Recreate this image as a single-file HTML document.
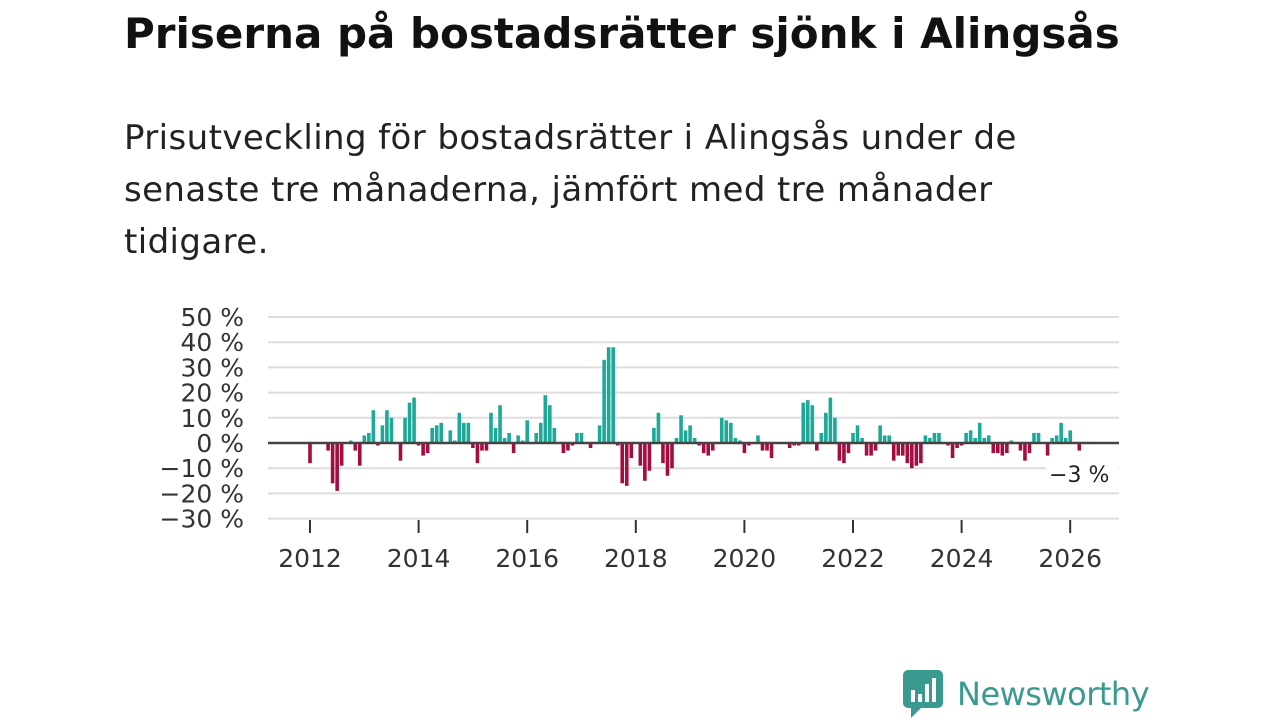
<!DOCTYPE html>
<html><head><meta charset="utf-8"><style>
body{margin:0;width:1280px;height:720px;background:#fff;font-family:"Liberation Sans","DejaVu Sans",sans-serif;overflow:hidden;position:relative}
h1{position:absolute;left:124px;top:9px;margin:0;font-size:42px;font-weight:bold;color:#111;font-family:"DejaVu Sans","Liberation Sans",sans-serif;letter-spacing:0}
p{position:absolute;left:124px;top:112px;margin:0;font-size:34px;line-height:52px;color:#222;width:1100px;font-family:"DejaVu Sans","Liberation Sans",sans-serif;font-weight:normal;letter-spacing:0.4px}
</style></head><body>
<h1>Priserna på bostadsrätter sjönk i Alingsås</h1>
<p>Prisutveckling för bostadsrätter i Alingsås under de<br>senaste tre månaderna, jämfört med tre månader<br>tidigare.</p>
<svg id="chart" width="1280" height="720" style="position:absolute;left:0;top:0"></svg>
<div style="position:absolute;left:903px;top:670px;display:flex;align-items:center">
<svg width="40" height="48" viewBox="0 0 40 48"><rect x="0" y="0" width="40" height="38" rx="5" fill="#3a9a8f"/><path d="M8 38 L8 48 L18 38Z" fill="#3a9a8f"/><rect x="8" y="20" width="4" height="12" fill="#fff"/><rect x="15" y="24" width="4" height="8" fill="#fff"/><rect x="22" y="14" width="4" height="18" fill="#fff"/><rect x="29" y="8" width="4" height="24" fill="#fff"/></svg>
<span style="font-size:32px;color:#3a9a8f;margin-left:14px;font-family:'DejaVu Sans','Liberation Sans',sans-serif;letter-spacing:-0.5px">Newsworthy</span></div>
<script>
const startYear = 2012;
const values = [
-8,0,0,0,-3,-16,-19,-9,0,1,-3,-9,
3,4,13,-1,7,13,10,0,-7,10,16,18,
-1,-5,-4,6,7,8,0,5,1,12,8,8,
-2,-8,-3,-3,12,6,15,2,4,-4,3,1,
9,0,4,8,19,15,6,0,-4,-3,-1,4,
4,0,-2,0,7,33,38,38,-1,-16,-17,-6,
0,-9,-15,-11,6,12,-8,-13,-10,2,11,5,
7,2,-1,-4,-5,-3,0,10,9,8,2,1,
-4,-1,0,3,-3,-3,-6,0,0,0,-2,-1,
-1,16,17,15,-3,4,12,18,10,-7,-8,-4,
4,7,2,-5,-5,-3,7,3,3,-7,-5,-5,
-8,-10,-9,-8,3,2,4,4,0,-1,-6,-2,
-1,4,5,2,8,2,3,-4,-4,-5,-4,1,
0,-3,-7,-4,4,4,0,-5,2,3,8,2,
5,0,-3];
const yTicks = [50,40,30,20,10,0,-10,-20,-30];
const xYears = [2012,2014,2016,2018,2020,2022,2024,2026];
const lastLabel = "−3 %";
const svg = document.getElementById('chart');
const NS = 'http://www.w3.org/2000/svg';
const x0 = 310, pxPerMonth = 4.525;
const xm = m => x0 + m * pxPerMonth;
const y = v => 443 - v * 2.52;
function mk(t, a){const e=document.createElementNS(NS,t);for(const k in a)e.setAttribute(k,a[k]);svg.appendChild(e);return e;}
yTicks.forEach(v=>{
  const g=mk('line',{x1:268,x2:1119,y1:y(v),y2:y(v),stroke:'#ddd','stroke-width':2});
  
  
  const t=mk('text',{x:244,y:y(v)+9,'text-anchor':'end','font-size':25,fill:'#333','font-family':'DejaVu Sans, Liberation Sans, sans-serif'});
  t.textContent=(v<0?'−'+(-v):v)+' %';
  
  
});
xYears.forEach(yr=>{
  const xx=xm((yr-startYear)*12);
  const l=mk('line',{x1:xx,x2:xx,y1:520,y2:533,stroke:'#333','stroke-width':2});
  
  
  const t=mk('text',{x:xx,y:567,'text-anchor':'middle','font-size':25,fill:'#333','font-family':'DejaVu Sans, Liberation Sans, sans-serif'});
  t.textContent=yr;
  
  
});
values.forEach((v,i)=>{
  const xx=xm(i);
  const b=mk('rect',{x:xx-1.8,y:Math.min(y(v),y(0)),width:3.6,height:Math.abs(y(v)-y(0)),fill:v>=0?'#1ea898':'#a30d40'});
  
  
});
const z=mk('line',{x1:268,x2:1119,y1:y(0),y2:y(0),stroke:'#444','stroke-width':2.5});


const li=values.length-1;
const bg=mk('rect',{x:xm(li)-33,y:458,width:72,height:30,fill:'#fff'});


const lt=mk('text',{x:xm(li),y:482,'text-anchor':'middle','font-size':22,fill:'#222','font-family':'DejaVu Sans, Liberation Sans, sans-serif'});
lt.textContent=lastLabel;


</script>
</body></html>
